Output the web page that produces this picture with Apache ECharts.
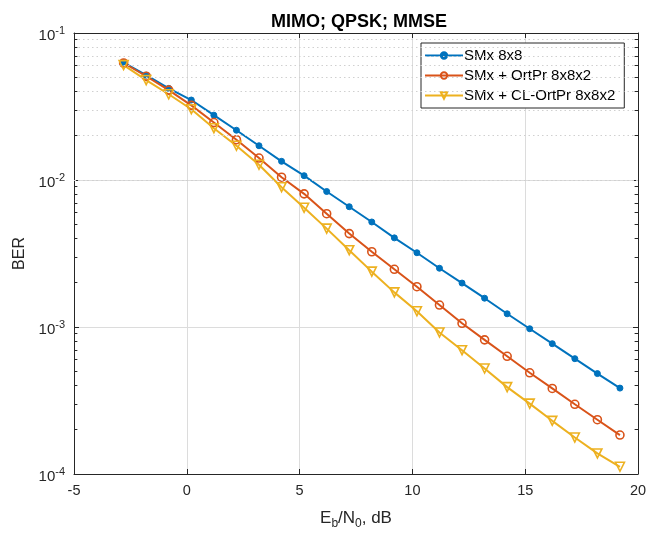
<!DOCTYPE html>
<html>
<head>
<meta charset="utf-8">
<script src="https://cdn.jsdelivr.net/npm/echarts@6/dist/echarts.min.js"></script>
<style>
html,body{margin:0;padding:0;background:#fff;}
#chart{width:659px;height:535px;}
</style>
</head>
<body>
<div id="chart"></div>
<script>
const ebn0 = [-2.8,-1.8,-0.8,0.2,1.2,2.2,3.2,4.2,5.2,6.2,7.2,8.2,9.2,10.2,11.2,12.2,13.2,14.2,15.2,16.2,17.2,18.2,19.2];
const berSMx = [0.0629,0.0517,0.0420,0.0350,0.0276,0.0218,0.0171,0.0134,0.0107,0.00835,0.00658,0.00518,0.00404,0.00320,0.00251,0.00199,0.00157,0.00123,0.000973,0.000770,0.000609,0.000482,0.000384];
const berOrtPr = [0.0625,0.0508,0.0409,0.0322,0.0246,0.0188,0.0141,0.01045,0.00805,0.00590,0.00432,0.00325,0.00247,0.00188,0.00141,0.00106,0.000818,0.000632,0.000488,0.000382,0.000298,0.000234,0.000184];
const berCLOrtPr = [0.0605,0.0478,0.0383,0.0303,0.0225,0.0171,0.0127,0.00893,0.00647,0.00467,0.00333,0.00238,0.00172,0.00128,0.000918,0.000695,0.000522,0.000390,0.000301,0.000230,0.000177,0.000138,0.000112];
const seriesNames = ['SMx 8x8','SMx + OrtPr 8x8x2','SMx + CL-OrtPr 8x8x2'];
const xTicks = [-5,0,5,10,15,20];
const yTicks = [1e-4,1e-3,1e-2,1e-1];

const FONT = 'Liberation Sans, Arial, Helvetica, sans-serif';
const AX = '#262626';
const BLUE = '#0072BD', ORANGE = '#D95319', YELLOW = '#EDB120';

// minor grid positions 2..9 x 10^k
const minorVals = [];
for (let e = -4; e <= -2; e++) for (let m = 2; m <= 9; m++) minorVals.push(m * Math.pow(10, e));

const minorLines = minorVals.map(v => ({yAxis: v}));
const minorTicksL = minorVals.map(v => [{coord:[-5, v]}, {coord:[-4.85, v]}]);
const minorTicksR = minorVals.map(v => [{coord:[19.85, v]}, {coord:[20, v]}]);

function pair(xs, ys){ return xs.map((x,i)=>[x, ys[i]]); }

const chart = echarts.init(document.getElementById('chart'), null, {renderer:'canvas'});
const option = {
  backgroundColor: '#fff',
  animation: false,
  textStyle: {fontFamily: FONT},
  title: {
    text: 'MIMO; QPSK; MMSE',
    left: 354, textAlign: 'center', top: 8,
    textStyle: {fontFamily: FONT, fontSize: 18, fontWeight: 'bold', color: '#000'}
  },
  grid: {left: 74, right: 21, top: 33, bottom: 58, containLabel: false},
  legend: {
    orient: 'vertical',
    left: 421, top: 43,
    padding: [4, 9, 4, 3],
    itemGap: 3,
    itemWidth: 38, itemHeight: 8,
    backgroundColor: '#fff',
    borderColor: '#262626', borderWidth: 1, borderRadius: 0,
    textStyle: {fontFamily: FONT, fontSize: 15, color: '#000', padding: [0,0,0,-4], lineHeight: 17},
    data: seriesNames
  },
  xAxis: [{
    type: 'value', min: -5, max: 20, interval: 5,
    name: 'E{sub|b}/N{sub|0}, dB', nameLocation: 'middle', nameGap: 32,
    nameTextStyle: {fontFamily: FONT, fontSize: 17, color: AX,
      rich: {sub: {fontSize: 12, verticalAlign: 'bottom', padding: [12,0,0,0], color: AX}}},
    axisLine: {show: true, onZero: false, lineStyle: {color: AX, width: 1}},
    axisTick: {show: true, inside: true, length: 5, lineStyle: {color: AX}},
    axisLabel: {color: AX, fontSize: 14.5, margin: 9, fontFamily: FONT},
    splitLine: {show: true, lineStyle: {color: '#dcdcdc', width: 1}}
  },{
    type: 'value', min: -5, max: 20, interval: 5, position: 'top',
    axisLine: {show: true, onZero: false, lineStyle: {color: AX, width: 1}},
    axisTick: {show: true, inside: true, length: 5, lineStyle: {color: AX}},
    axisLabel: {show: false}, splitLine: {show: false}
  }],
  yAxis: [{
    type: 'log', logBase: 10, min: 1e-4, max: 1e-1,
    name: 'BER', nameLocation: 'middle', nameGap: 46,
    nameTextStyle: {fontFamily: FONT, fontSize: 16, color: AX},
    axisLine: {show: true, onZero: false, lineStyle: {color: AX, width: 1}},
    axisTick: {show: true, inside: true, length: 5, lineStyle: {color: AX}},
    axisLabel: {
      color: AX, fontSize: 15, margin: 9, fontFamily: FONT, padding: [5,0,0,0],
      formatter: function(v){ return '10{sup|' + Math.round(Math.log10(v)) + '}'; },
      rich: {sup: {fontSize: 11, verticalAlign: 'top', padding: [0,0,10,0], color: AX}}
    },
    splitLine: {show: true, lineStyle: {color: '#dcdcdc', width: 1}}
  },{
    type: 'log', logBase: 10, min: 1e-4, max: 1e-1, position: 'right',
    axisLine: {show: true, onZero: false, lineStyle: {color: AX, width: 1}},
    axisTick: {show: true, inside: true, length: 5, lineStyle: {color: AX}},
    axisLabel: {show: false}, splitLine: {show: false}
  }],
  series: [
    {
      name: '_minor', type: 'line', data: [], z: 1, silent: true,
      markLine: {
        silent: true, symbol: ['none','none'], label: {show: false},
        animation: false,
        lineStyle: {color: '#d0d0d0', type: [1.5, 3], width: 1},
        data: minorLines
      }
    },
    {
      name: '_minorTicks', type: 'line', data: [], z: 5, silent: true,
      markLine: {
        silent: true, symbol: ['none','none'], label: {show: false},
        animation: false,
        lineStyle: {color: AX, type: 'solid', width: 1},
        data: minorTicksL.concat(minorTicksR)
      }
    },
    {
      name: seriesNames[0], type: 'line', z: 4,
      data: pair(ebn0, berSMx),
      symbol: 'circle', symbolSize: 6,
      lineStyle: {color: BLUE, width: 2},
      itemStyle: {color: BLUE, borderColor: BLUE, borderWidth: 1}
    },
    {
      name: seriesNames[1], type: 'line', z: 4,
      data: pair(ebn0, berOrtPr),
      symbol: 'circle', symbolSize: 8,
      lineStyle: {color: ORANGE, width: 2},
      itemStyle: {color: 'rgba(255,255,255,0)', borderColor: ORANGE, borderWidth: 1.6}
    },
    {
      name: seriesNames[2], type: 'line', z: 4,
      data: pair(ebn0, berCLOrtPr),
      symbol: 'triangle', symbolSize: 9, symbolRotate: 180,
      lineStyle: {color: YELLOW, width: 2},
      itemStyle: {color: 'rgba(255,255,255,0)', borderColor: YELLOW, borderWidth: 1.6}
    }
  ]
};
chart.setOption(option);
</script>
</body>
</html>
